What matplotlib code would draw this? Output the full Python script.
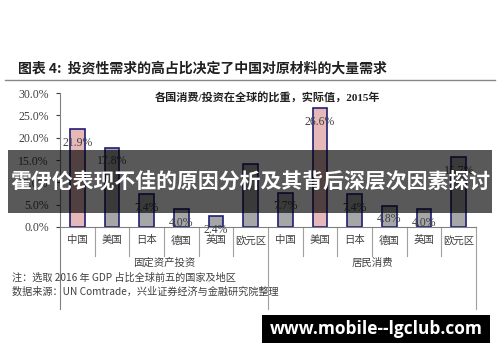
import matplotlib
matplotlib.use("Agg")
import matplotlib.pyplot as plt
from matplotlib.patches import Rectangle

plt.rcParams['font.family'] = ['Noto Sans CJK SC', 'DejaVu Sans']

countries = ['中国', '美国', '日本', '德国', '英国', '欧元区']
groups = ['固定资产投资', '居民消费']
invest = [21.9, 17.8, 7.4, 4.0, 2.4, 14.2]
consume = [7.7, 26.6, 7.4, 4.8, 4.0, 15.7]
invest_labels = ['21.9%', '17.8%', '7.4%', '4.0%', '2.4%', '']
consume_labels = ['7.7%', '26.6%', '7.4%', '4.8%', '4.0%', '15.7%']
yticks = [0, 5, 10, 15, 20, 25, 30]

edge = '#1f1f78'
grey = '#a6a6a6'
pink = '#e6b8b7'
txt = '#404040'
serif = ['Liberation Serif', 'Noto Sans CJK SC']

fig = plt.figure(figsize=(5, 3.62), dpi=100)
ax = fig.add_axes([0.12, 0.373, 0.832, 0.370])

vals = invest + consume
labels = invest_labels + consume_labels
xs = list(range(len(vals)))
# China bars are pink, the rest grey
colors = [pink if i in (0, 7) else grey for i in xs]
ax.bar(xs, vals, width=0.43, color=colors, edgecolor=edge, linewidth=1.2)
for x, v, l in zip(xs, vals, labels):
    if l:
        ax.annotate(l, (x, v), xytext=(0, -10), textcoords='offset points',
                    ha='center', va='center', fontsize=8.5, color=txt, family=serif)

ax.set_xlim(-0.5, 11.5)
ax.set_ylim(0, 30)
ax.set_yticks(yticks)
ax.set_yticklabels(['%.1f%%' % t for t in yticks], family=serif, fontsize=8.5, color=txt)
ax.tick_params(axis='y', length=3, color=txt, pad=5)
ax.set_xticks([])
for s in ['top', 'right']:
    ax.spines[s].set_visible(False)
ax.spines['left'].set_color('#808080')
ax.spines['bottom'].set_color('#808080')

# category labels and separators below the axis
tr = ax.get_xaxis_transform()
for i, x in enumerate(xs):
    ax.text(x, -0.1, countries[i % 6], transform=tr, ha='center', va='center',
            fontsize=7.5, color=txt)
for b in range(1, 12):
    ymin = -0.61 if b == 6 else -0.22
    ax.plot([b - 0.5, b - 0.5], [0, ymin], transform=tr, color='#a0a0a0',
            lw=0.8, clip_on=False)
ax.plot([11.5, 11.5], [0, -0.61], transform=tr, color='#a0a0a0', lw=0.8, clip_on=False)
ax.plot([-0.5, -0.5], [0, -0.61], transform=tr, color='#808080', lw=0.8, clip_on=False)
for g, name in enumerate(groups):
    ax.text(g * 6 + 2.5, -0.27, name, transform=tr, ha='center', va='center',
            fontsize=7.5, color=txt)

ax.text(0.5, 0.96, '各国消费/投资在全球的比重，实际值，2015年', transform=ax.transAxes,
        ha='center', va='center', fontsize=8, color='#202020', family=serif,
        fontweight='bold')

# header, rule and notes
fig.text(0.036, 0.812, '图表 4:  投资性需求的高占比决定了中国对原材料的大量需求',
         fontsize=10, color='#202020', va='center', fontweight='bold')
fig.add_artist(plt.Line2D([0.01, 0.99], [0.779, 0.779], color='#888888', lw=1))
fig.text(0.024, 0.232, '注：选取 2016 年 GDP 占比全球前五的国家及地区',
         fontsize=7.3, color=txt, va='center')
fig.text(0.024, 0.193, '数据来源：UN Comtrade，兴业证券经济与金融研究院整理',
         fontsize=7.3, color=txt, va='center')

# overlay banner
fig.add_artist(Rectangle((0.016, 0.412), 0.968, 0.174, transform=fig.transFigure,
                         color='black', alpha=0.65, lw=0))
fig.text(0.5, 0.497, '霍伊伦表现不佳的原因分析及其背后深层次因素探讨',
         ha='center', va='center', fontsize=15, color='white', fontweight='bold')

# watermark box
fig.add_artist(Rectangle((0.524, 0.052), 0.456, 0.078, transform=fig.transFigure,
                         color='black', lw=0))
fig.text(0.752, 0.092, 'www.mobile--lgclub.com', ha='center', va='center',
         fontsize=12.5, color='white', fontweight='bold', family=['Open Sans', 'DejaVu Sans'])

fig.savefig('out.png', dpi=100)
